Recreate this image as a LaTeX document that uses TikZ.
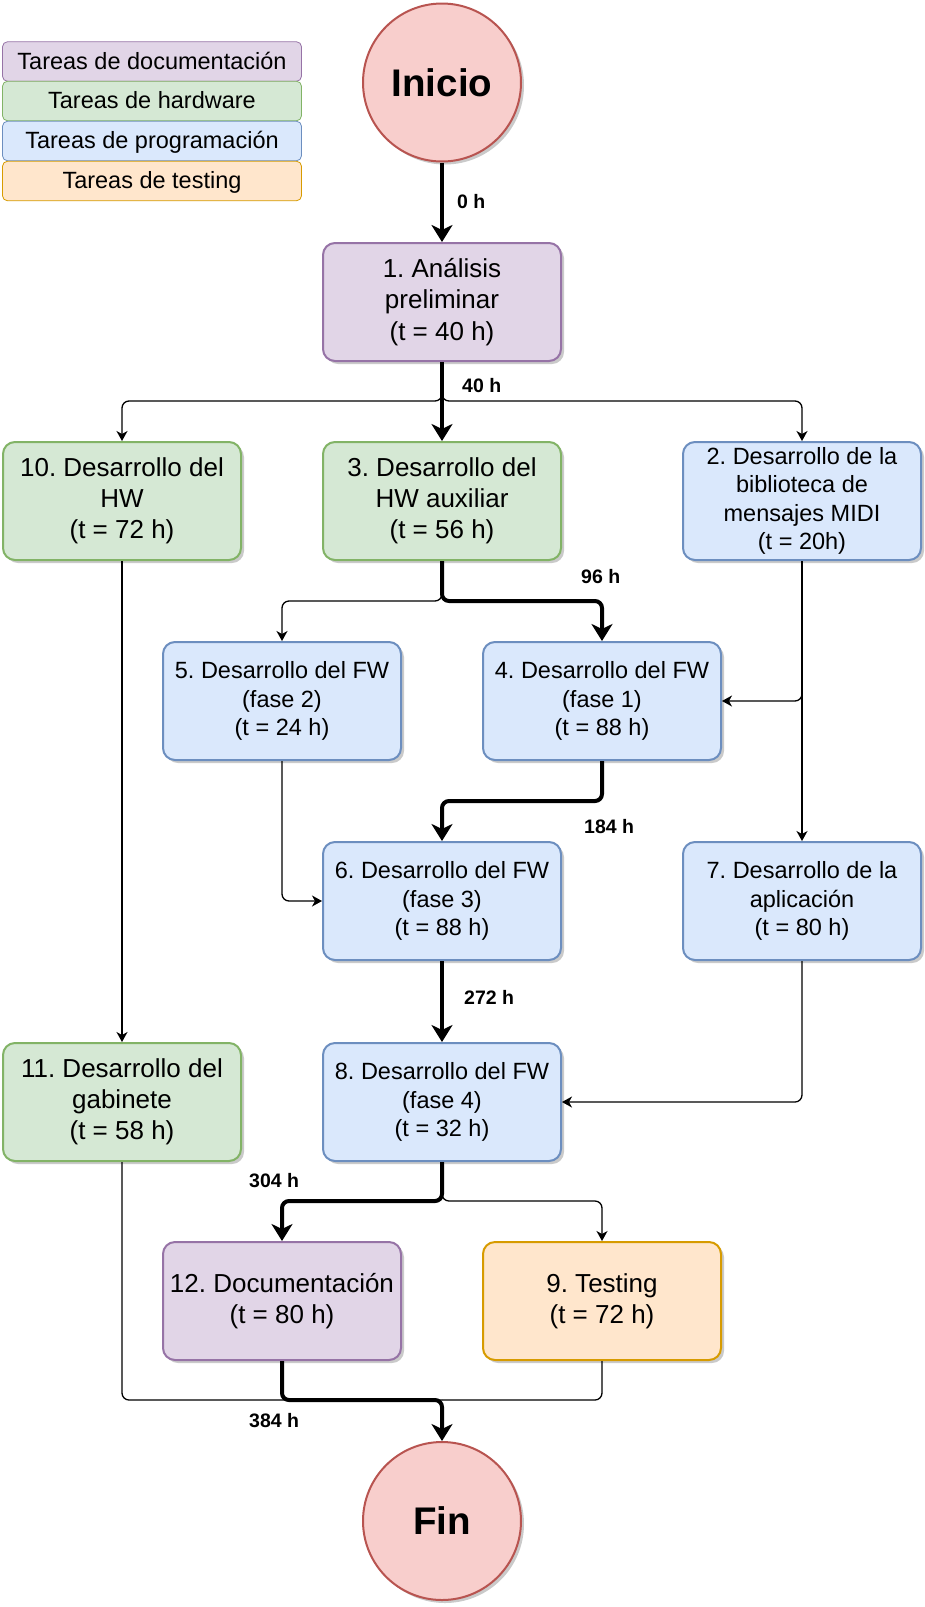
\documentclass[tikz,border=0pt]{standalone}
\usepackage{fontspec}
\setmainfont{Liberation Sans}
\usepackage{tikz}
\usetikzlibrary{arrows.meta,calc,positioning,shadows}
\frenchspacing

\definecolor{docFill}{HTML}{E1D5E7}
\definecolor{docLine}{HTML}{9673A6}
\definecolor{hwFill}{HTML}{D5E8D4}
\definecolor{hwLine}{HTML}{82B366}
\definecolor{progFill}{HTML}{DAE8FC}
\definecolor{progLine}{HTML}{6C8EBF}
\definecolor{testFill}{HTML}{FFE6CC}
\definecolor{testLine}{HTML}{D79B00}
\definecolor{eventoFill}{HTML}{F8CECC}
\definecolor{eventoLine}{HTML}{B85450}

\tikzset{
  sombra/.style={drop shadow={shadow xshift=3pt,shadow yshift=-3pt,opacity=.35,fill=black!60}},
  tarea/.style={draw, rounded corners=12pt, line width=2pt, minimum width=238pt,
    minimum height=118pt, inner sep=0pt, align=center,
    font=\fontsize{26}{31.2}\selectfont, sombra},
  tareachica/.style={tarea, font=\fontsize{23.5}{28.4}\selectfont},
  doc/.style={fill=docFill, draw=docLine},
  hw/.style={fill=hwFill, draw=hwLine},
  prog/.style={fill=progFill, draw=progLine},
  test/.style={fill=testFill, draw=testLine},
  evento/.style={circle, draw=eventoLine, fill=eventoFill, line width=2pt,
    minimum size=158pt, inner sep=0pt, font=\bfseries\fontsize{38.5}{46}\selectfont, sombra},
  leyenda/.style={draw, rounded corners=5pt, line width=0.8pt, minimum width=299pt,
    minimum height=39.5pt, inner sep=0pt, text height=18pt, text depth=2.5pt,
    font=\fontsize{23.5}{28}\selectfont},
  critico/.style={line width=4pt, rounded corners=7pt},
  normal/.style={line width=1.3pt, rounded corners=7pt},
  puntagruesa/.style={-{Stealth[length=17pt,width=21pt,inset=5pt]}},
  puntafina/.style={-{Stealth[length=10pt,width=11pt,inset=3pt]}},
  horas/.style={font=\bfseries\fontsize{19.5}{22}\selectfont, anchor=west, inner sep=0pt}
}

\begin{document}
\begin{tikzpicture}[x=1pt,y=-1pt]
            \useasboundingbox (0,0) rectangle (925,1607);
            % Legend
            \node[leyenda, doc] (leyDoc) at (152,61.5) {Tareas de documentación};
            \node[leyenda, hw] (leyHw) at (152,101) {Tareas de hardware};
            \node[leyenda, prog] (leyProg) at (152,141) {Tareas de programación};
            \node[leyenda, test] (leyTest) at (152,181) {Tareas de testing};
            % Start and end
            \node[evento] (inicio) at (442,82.5) {Inicio};
            \node[evento] (fin) at (442,1521) {Fin};
            % Tasks
            \node[tarea, doc] (t1) at (442,302) {1. Análisis\\preliminar\\(t = 40 h)};
            \node[tarea, hw] (t10) at (122,501) {10. Desarrollo del\\HW\\(t = 72 h)};
            \node[tarea, hw] (t3) at (442,501) {3. Desarrollo del\\HW auxiliar\\(t = 56 h)};
            \node[tareachica, prog] (t2) at (802,501) {2. Desarrollo de la\\biblioteca de\\mensajes MIDI\\(t = 20h)};
            \node[tareachica, prog] (t5) at (282,701) {5. Desarrollo del FW\\(fase 2)\\(t = 24 h)};
            \node[tareachica, prog] (t4) at (602,701) {4. Desarrollo del FW\\(fase 1)\\(t = 88 h)};
            \node[tareachica, prog] (t6) at (442,901) {6. Desarrollo del FW\\(fase 3)\\(t = 88 h)};
            \node[tareachica, prog] (t7) at (802,901) {7. Desarrollo de la\\aplicación\\(t = 80 h)};
            \node[tarea, hw] (t11) at (122,1102) {11. Desarrollo del\\gabinete\\(t = 58 h)};
            \node[tareachica, prog] (t8) at (442,1102) {8. Desarrollo del FW\\(fase 4)\\(t = 32 h)};
            \node[tarea, doc] (t12) at (282,1301) {12. Documentación\\(t = 80 h)};
            \node[tarea, test] (t9) at (602,1301) {9. Testing\\(t = 72 h)};
            % Branch points
            \coordinate (rama1) at (442,401);
            \coordinate (rama3) at (442,601);
            \coordinate (rama4) at (602,801);
            \coordinate (rama8) at (442,1201);
            \coordinate (union) at (442,1400);
            % Secondary links
            \draw[normal, puntafina] (t1.south) -- (rama1) -| (t10);
            \draw[normal, puntafina] (t1.south) -- (rama1) -| (t2);
            \draw[normal, puntafina] (t3.south) -- (rama3) -| (t5);
            \draw[normal, puntafina] (t2) |- (t4);
            \draw[normal, puntafina] (t2) -- (t7);
            \draw[normal, puntafina] (t5) |- (t6);
            \draw[normal, puntafina] (t10) -- (t11);
            \draw[normal, puntafina] (t7) |- (t8);
            \draw[normal, puntafina] (t8.south) -- (rama8) -| (t9);
            \draw[normal] (t11) |- (union);
            \draw[normal] (t9) |- (union);
            % Critical path
            \draw[critico, puntagruesa] (inicio) -- (t1);
            \draw[critico, puntagruesa] (t1) -- (t3);
            \draw[critico, puntagruesa] (t3.south) -- (rama3) -| (t4);
            \draw[critico, puntagruesa] (t4.south) -- (rama4) -| (t6);
            \draw[critico, puntagruesa] (t6) -- (t8);
            \draw[critico, puntagruesa] (t8.south) -- (rama8) -| (t12);
            \draw[critico, puntagruesa] (t12) |- (union) -- (fin);
            % Accumulated hours
            \node[horas] (h0) at (457,202) {0 h};
            \node[horas] (h40) at (462,386) {40 h};
            \node[horas] (h96) at (581,577) {96 h};
            \node[horas] (h184) at (584,827) {184 h};
            \node[horas] (h272) at (464,997) {272 h};
            \node[horas] (h304) at (249,1181) {304 h};
            \node[horas] (h384) at (249,1421) {384 h};
          \end{tikzpicture}
\end{document}
